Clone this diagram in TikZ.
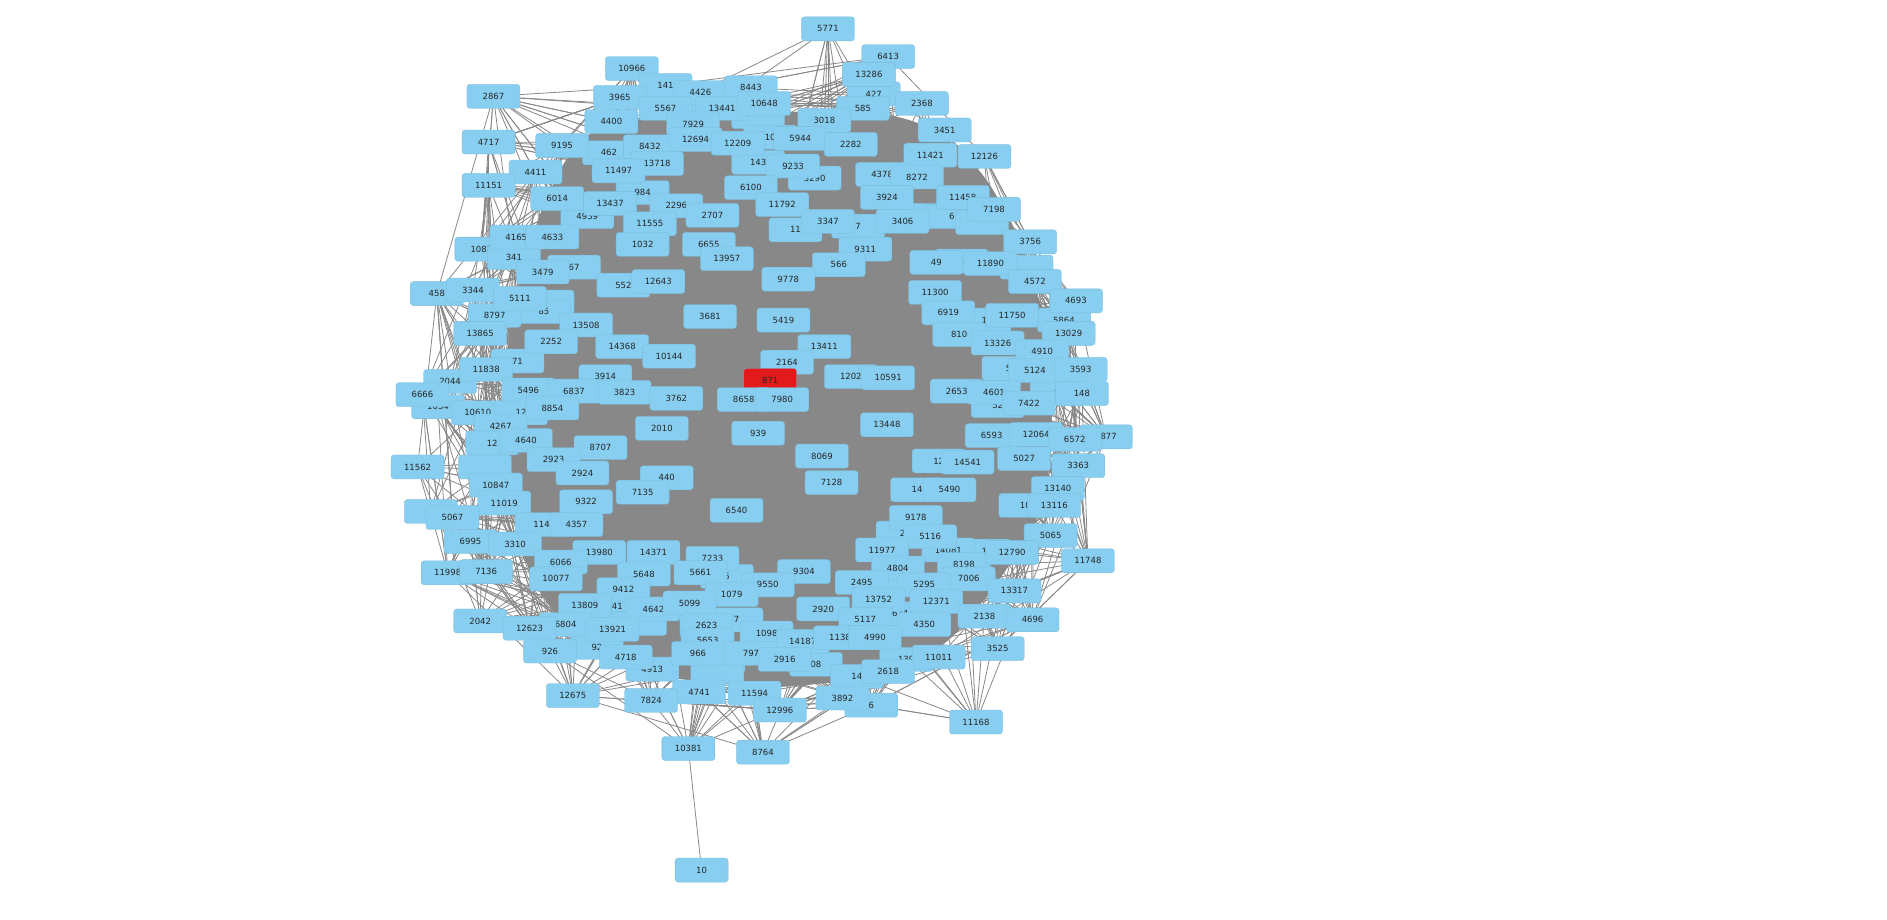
\documentclass[tikz,border=0pt]{standalone}
\usepackage{fontspec}
\setmainfont{DejaVu Sans}
\definecolor{nodeblue}{RGB}{135,206,240}
\definecolor{nodered}{RGB}{227,26,28}
\definecolor{edgegray}{RGB}{136,136,136}
\newdimen\dxA \newdimen\dyA \newdimen\dxB \newdimen\dyB
\def\nodelist{726/78/427/nodeblue, 576/90/{}/nodeblue, 630/97/{}/nodeblue, 640/114/10/nodeblue, 506/127/462/nodeblue,
630/135/143/nodeblue, 677/148/3290/nodeblue, 534/160/984/nodeblue, 488/180/4939/nodeblue, 661/191/11/nodeblue,
713/188/7/nodeblue, 773/179/4/nodeblue, 791/180/6/nodeblue, 816/185/{}/nodeblue, 400/207/1087/nodeblue,
427/214/341/nodeblue, 477/222/67/nodeblue, 799/217/1/nodeblue, 853/222/{}/nodeblue, 455/251/{}/nodeblue,
452/259/85/nodeblue, 411/262/8797/nodeblue, 818/266/1/nodeblue, 884/266/5864/nodeblue, 430/300/71/nodeblue,
838/306/5/nodeblue, 503/313/3914/nodeblue, 374/317/2044/nodeblue, 878/327/1/nodeblue, 364/338/1054/nodeblue,
397/343/10610/nodeblue, 433/343/12/nodeblue, 829/337/52/nodeblue, 416/354/4267/nodeblue, 409/368/12/nodeblue,
780/383/12/nodeblue, 403/388/{}/nodeblue, 762/407/14/nodeblue, 852/420/10/nodeblue, 358/425/11/nodeblue,
750/443/2/nodeblue, 818/458/1/nodeblue, 788/457/14081/nodeblue, 801/469/8198/nodeblue, 604/479/6/nodeblue,
742/486/{}/nodeblue, 513/504/41/nodeblue, 748/510/674/nodeblue, 612/515/7/nodeblue, 532/518/{}/nodeblue,
496/538/92/nodeblue, 597/549/8/nodeblue, 678/552/08/nodeblue, 753/548/139/nodeblue, 542/556/4913/nodeblue,
596/558/{}/nodeblue, 712/562/14/nodeblue, 724/586/6/nodeblue, 919/363/1877/nodeblue,
688/24/5771/nodeblue, 738/47/6413/nodeblue, 525/57/10966/nodeblue, 722/62/13286/nodeblue, 410/80/2867/nodeblue,
553/71/141/nodeblue, 582/77/4426/nodeblue, 624/73/8443/nodeblue, 515/81/3965/nodeblue, 766/86/2368/nodeblue,
553/90/5567/nodeblue, 600/90/13441/nodeblue, 635/86/10648/nodeblue, 717/90/585/nodeblue, 508/101/4400/nodeblue,
576/103/7929/nodeblue, 685/100/3018/nodeblue, 785/108/3451/nodeblue, 406/118/4717/nodeblue, 467/121/9195/nodeblue,
540/122/8432/nodeblue, 578/116/12694/nodeblue, 613/119/12209/nodeblue, 665/115/5944/nodeblue, 707/120/2282/nodeblue,
773/129/11421/nodeblue, 818/130/12126/nodeblue, 546/136/13718/nodeblue, 659/138/9233/nodeblue, 445/143/4411/nodeblue,
514/142/11497/nodeblue, 733/145/4378/nodeblue, 762/147/8272/nodeblue, 406/154/11151/nodeblue, 624/156/6100/nodeblue,
800/164/11458/nodeblue, 463/165/6014/nodeblue, 507/169/13437/nodeblue, 562/171/2296/nodeblue, 650/170/11792/nodeblue,
737/164/3924/nodeblue, 826/174/7198/nodeblue, 592/179/2707/nodeblue, 540/186/11555/nodeblue, 688/184/3347/nodeblue,
750/184/3406/nodeblue, 429/197/4165/nodeblue, 459/197/4633/nodeblue, 534/203/1032/nodeblue, 589/203/6655/nodeblue,
719/207/9311/nodeblue, 856/201/3756/nodeblue, 604/215/13957/nodeblue, 451/226/3479/nodeblue, 697/220/566/nodeblue,
778/218/49/nodeblue, 823/219/11890/nodeblue, 655/232/9778/nodeblue, 518/237/552/nodeblue, 547/234/12643/nodeblue,
860/234/4572/nodeblue, 363/244/458/nodeblue, 393/241/3344/nodeblue, 777/243/11300/nodeblue, 432/248/5111/nodeblue,
894/250/4693/nodeblue, 590/263/3681/nodeblue, 651/266/5419/nodeblue, 788/260/6919/nodeblue, 841/262/11750/nodeblue,
487/270/13508/nodeblue, 399/277/13865/nodeblue, 888/277/13029/nodeblue, 797/278/810/nodeblue, 829/285/13326/nodeblue,
458/284/2252/nodeblue, 517/288/14368/nodeblue, 685/288/13411/nodeblue, 866/292/4910/nodeblue, 556/296/10144/nodeblue,
654/301/2164/nodeblue, 640/316/871/nodered, 404/307/11838/nodeblue, 860/308/5124/nodeblue, 898/307/3593/nodeblue,
707/313/1202/nodeblue, 738/314/10591/nodeblue, 439/324/5496/nodeblue, 477/325/6837/nodeblue, 519/326/3823/nodeblue,
351/328/6666/nodeblue, 795/325/2653/nodeblue, 826/326/4601/nodeblue, 899/327/148/nodeblue, 562/331/3762/nodeblue,
618/332/8658/nodeblue, 650/332/7980/nodeblue, 459/339/8854/nodeblue, 855/335/7422/nodeblue, 737/353/13448/nodeblue,
550/356/2010/nodeblue, 630/360/939/nodeblue, 824/362/6593/nodeblue, 861/361/12064/nodeblue, 893/365/6572/nodeblue,
437/366/4640/nodeblue, 499/372/8707/nodeblue, 683/379/8069/nodeblue, 804/384/14541/nodeblue, 851/381/5027/nodeblue,
347/388/11562/nodeblue, 460/382/2923/nodeblue, 896/387/3363/nodeblue, 484/393/2924/nodeblue, 554/397/440/nodeblue,
691/401/7128/nodeblue, 412/403/10847/nodeblue, 789/407/5490/nodeblue, 879/406/13140/nodeblue, 534/409/7135/nodeblue,
419/418/11019/nodeblue, 487/417/9322/nodeblue, 612/424/6540/nodeblue, 876/420/13116/nodeblue, 376/430/5067/nodeblue,
761/430/9178/nodeblue, 450/436/114/nodeblue, 479/436/4357/nodeblue, 873/445/5065/nodeblue, 391/450/6995/nodeblue,
428/452/3310/nodeblue, 773/446/5116/nodeblue, 498/459/13980/nodeblue, 543/459/14371/nodeblue, 733/457/11977/nodeblue,
841/459/12790/nodeblue, 592/464/7233/nodeblue, 466/467/6066/nodeblue, 904/466/11748/nodeblue, 372/476/11998/nodeblue,
404/475/7136/nodeblue, 535/477/5648/nodeblue, 582/476/5661/nodeblue, 668/475/9304/nodeblue, 746/472/4804/nodeblue,
805/481/7006/nodeblue, 462/481/10077/nodeblue, 518/490/9412/nodeblue, 638/486/9550/nodeblue, 716/484/2495/nodeblue,
768/486/5295/nodeblue, 843/491/13317/nodeblue, 608/494/1079/nodeblue, 730/498/13752/nodeblue, 778/500/12371/nodeblue,
486/503/13809/nodeblue, 543/506/4642/nodeblue, 573/501/5099/nodeblue, 684/506/2920/nodeblue, 818/512/2138/nodeblue,
858/515/4696/nodeblue, 399/516/2042/nodeblue, 470/519/6804/nodeblue, 440/522/12623/nodeblue, 509/523/13921/nodeblue,
587/520/2623/nodeblue, 719/515/5117/nodeblue, 768/519/4350/nodeblue, 637/526/1098/nodeblue, 667/533/14187/nodeblue,
698/530/1138/nodeblue, 727/530/4990/nodeblue, 588/532/5653/nodeblue, 829/539/3525/nodeblue, 457/541/926/nodeblue,
520/546/4718/nodeblue, 580/543/966/nodeblue, 624/543/797/nodeblue, 652/548/2916/nodeblue, 780/546/11011/nodeblue,
738/558/2618/nodeblue, 476/578/12675/nodeblue, 581/575/4741/nodeblue, 627/576/11594/nodeblue, 541/582/7824/nodeblue,
700/580/3892/nodeblue, 648/590/12996/nodeblue, 811/600/11168/nodeblue, 634/625/8764/nodeblue, 572/622/10381/nodeblue,
583/723/10/nodeblue}
\tikzset{
  nbox/.style={rectangle, rounded corners=3pt, minimum width=53pt, minimum height=24pt, inner sep=0pt,
    draw=nodeblue!85!black!60!nodeblue, line width=0.3pt, font=\fontsize{8.5}{10}\selectfont, text=black!85},
  edge/.style={draw=edgegray, line width=0.8pt}
}
\begin{document}
\begin{tikzpicture}[x=1.2034pt,y=-1.2034pt]
\fill[white] (0,0) rectangle (1568,764);
\useasboundingbox (0,0) rectangle (1568,764);
\foreach \x/\y/\l/\f [count=\n] in \nodelist { \coordinate (c\n) at (\x,\y); \xdef\NN{\n} }
\pgfmathtruncatemacro\NM{\NN-1}
\fill[edgegray] plot[smooth cycle] coordinates {(500,106) (540,98) (600,95) (660,93) (720,93) (762,102) (795,122)
 (820,150) (840,185) (855,220) (866,260) (872,300) (874,340) (872,380) (866,420) (850,452) (830,482) (810,508)
 (788,532) (758,552) (722,563) (682,568) (640,571) (600,568) (558,563) (518,551) (486,533) (460,508) (443,482)
 (433,452) (427,420) (423,380) (420,340) (421,300) (426,260) (436,220) (447,183) (462,148) (478,122)};
\pgfmathsetseed{7}
\foreach \i in {1,...,\NM}{
  \pgfextractx{\dxA}{\pgfpointanchor{c\i}{center}}
  \pgfextracty{\dyA}{\pgfpointanchor{c\i}{center}}
  \foreach \k in {1,...,50}{
    \pgfmathrandominteger{\j}{1}{\NM}
    \pgfextractx{\dxB}{\pgfpointanchor{c\j}{center}}
    \pgfextracty{\dyB}{\pgfpointanchor{c\j}{center}}
    \advance\dxB by -\dxA
    \advance\dyB by -\dyA
    \ifdim\dxB<0pt \dxB=-\dxB\fi
    \ifdim\dyB<0pt \dyB=-\dyB\fi
    \advance\dxB by \dyB
    \ifdim\dxB<265pt \draw[edge] (c\i) -- (c\j);\fi
  }
}
\draw[edge] (c\NM) -- (c\NN);
\foreach \x/\y/\l/\f [count=\n] in \nodelist { \node[nbox, fill=\f] (n\n) at (c\n) {\l}; }
\end{tikzpicture}
\end{document}
